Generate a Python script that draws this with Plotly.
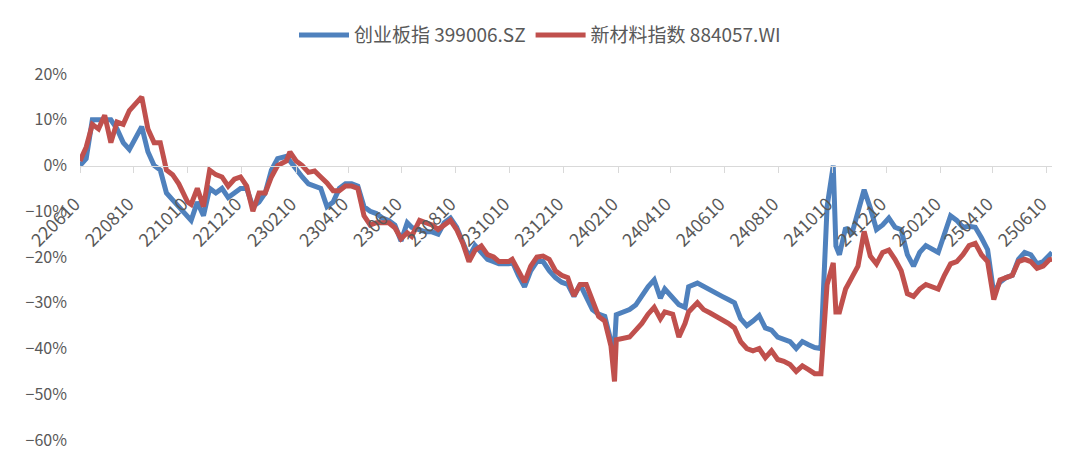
"""ChiNext vs new materials index, cumulative return since 2022-06-10"""

import pandas as pd
import plotly.graph_objects as go

# weekly-ish closes, cumulative change in %
dates = [
    "220610", "220617", "220624", "220701", "220708", "220715", "220722", "220729",
    "220805", "220812", "220819", "220826", "220902", "220909", "220916", "220923",
    "220930", "221010", "221014", "221021", "221028", "221104", "221111", "221118",
    "221125", "221202", "221209", "221216", "221223", "221230", "230106", "230113",
    "230120", "230130", "230203", "230210", "230217", "230224", "230303", "230310",
    "230317", "230324", "230331", "230407", "230414", "230421", "230428", "230505",
    "230512", "230519", "230526", "230602", "230609", "230616", "230621", "230630",
    "230707", "230714", "230721", "230728", "230804", "230811", "230818", "230825",
    "230901", "230908", "230915", "230922", "230928", "231009", "231013", "231020",
    "231027", "231103", "231110", "231117", "231124", "231201", "231208", "231215",
    "231222", "231229", "240105", "240112", "240119", "240126", "240202", "240206",
    "240208", "240223", "240301", "240308", "240315", "240322", "240329", "240403",
    "240412", "240419", "240426", "240430", "240510", "240517", "240524", "240531",
    "240607", "240614", "240621", "240628", "240705", "240712", "240719", "240726",
    "240802", "240809", "240816", "240823", "240830", "240906", "240913", "240920",
    "240927", "241004", "241011", "241014", "241018", "241025", "241101", "241108",
    "241115", "241122", "241129", "241206", "241213", "241220", "241227", "250103",
    "250110", "250117", "250124", "250207", "250214", "250221", "250228", "250307",
    "250314", "250321", "250328", "250404", "250411", "250418", "250425", "250502",
    "250509", "250516", "250523", "250530", "250606", "250613", "250616",
]

chinext = [
    0, 1.5, 10, 10, 10, 10, 8, 5,
    3.5, 6, 8.5, 3, 0, -1, -6, -7.5,
    -9, -11, -12, -8, -11, -5, -6, -5,
    -7, -6, -5, -5, -9, -8, -6, -1,
    1.5, 2, 1, -1, -2.5, -4, -4.5, -5,
    -9, -8, -5, -4, -4, -4.5, -9, -10,
    -10.5, -11.5, -12, -13, -16.5, -12.5, -13.5, -14,
    -14.5, -14.5, -15, -12.5, -11.5, -13.5, -16.5, -20,
    -17.5, -19, -20.5, -21, -21.5, -21.5, -21, -24,
    -26.5, -23, -21, -21, -23, -24.5, -25.5, -26,
    -28.6, -26, -29, -31.5, -32.5, -33, -38.4, -39.5,
    -32.6, -31.5, -30.5, -28.5, -26.5, -25, -29, -27,
    -29, -30.4, -31, -26.5, -25.7, -26.5, -27, -27.8,
    -28.6, -29.3, -30, -33.5, -35, -34, -32.8, -35.5,
    -36, -37.5, -38, -38.5, -40, -38.5, -39.2, -39.8,
    -40, -9, 0, -17.6, -19.5, -13.6, -15, -10,
    -5.3, -9.3, -14, -13, -11.5, -13.5, -14, -19.5,
    -22, -19, -17.5, -19, -15, -11, -12, -13.5,
    -13.3, -13.5, -15.8, -18.4, -28, -25.5, -24.5, -24,
    -20.5, -19, -19.5, -21.5, -21, -19.5, -19,
]

new_materials = [
    1, 4, 9, 8, 11, 5, 9.5, 9,
    12, 13.5, 15, 8, 5, 5, -1, -2,
    -4, -8, -8.5, -5, -9, -1, -2, -2.5,
    -4.5, -3, -2.5, -4.5, -10, -6, -6, -2.5,
    0, 1, 3, 1, 0, -1.5, -1.2, -2.5,
    -3.8, -5.5, -5.5, -4.5, -4.5, -5, -11, -13,
    -12.5, -12.5, -12.5, -13.6, -16, -14.7, -15.5, -12,
    -12.5, -13, -14, -13, -12, -14, -17, -21,
    -18.5, -17.6, -19.5, -20, -21, -21, -20.5, -23,
    -25.5, -22, -20, -19.8, -20.5, -23, -24, -24.5,
    -28.5, -26, -26, -29.5, -33, -34, -39.5, -47.2,
    -38.1, -37.5, -36, -34.5, -32.5, -31, -33.5, -32,
    -32.5, -37.5, -34.5, -32, -30, -31.5, -32.2, -33,
    -33.5, -34.5, -35.5, -38.5, -40, -40.5, -40, -42,
    -40.5, -42.4, -42.8, -43.5, -45, -43.8, -44.6, -45.5,
    -45.5, -26, -21.3, -32, -32, -27, -24.5, -22,
    -14.4, -19.8, -21.5, -19, -18.5, -20.5, -23, -28,
    -28.6, -27, -26, -27, -24, -21.5, -21, -19.5,
    -17.5, -17, -19.5, -21, -29.3, -25, -24.5, -24,
    -21, -20.5, -21, -22.5, -22, -20.6, -20.5,
]

y_ticks = [20, 10, 0, -10, -20, -30, -40, -50, -60]
y_labels = ["20%", "10%", "0%", "\u221210%", "\u221220%", "\u221230%",
            "\u221240%", "\u221250%", "\u221260%"]

FONT = "Noto Sans CJK SC, Noto Sans, sans-serif"
GREY = "#595959"

x = pd.to_datetime(dates, format="%y%m%d")

fig = go.Figure()
fig.add_trace(go.Scatter(x=x, y=chinext, mode="lines", name="创业板指 399006.SZ",
                         line=dict(color="#4F81BD", width=5)))
fig.add_trace(go.Scatter(x=x, y=new_materials, mode="lines", name="新材料指数 884057.WI",
                         line=dict(color="#C0504D", width=5)))

fig.update_layout(
    width=1080, height=468,
    margin=dict(l=80, r=28, t=74, b=28, autoexpand=False),
    plot_bgcolor="white", paper_bgcolor="white",
    font=dict(family=FONT, color=GREY, size=16),
    showlegend=True,
    legend=dict(orientation="h", xref="container", yref="container",
                x=0.5, xanchor="center", y=0.925, yanchor="middle",
                itemwidth=50, font=dict(size=19, color=GREY)),
)

# x axis sits on the 0% line, labels rotated like the original
fig.update_xaxes(
    type="date", range=[x[0], x[-1]],
    anchor="free", position=0.75,
    showline=True, linecolor="#d9d9d9", linewidth=1,
    ticks="outside", ticklen=6, tickcolor="#d9d9d9",
    tick0="2022-06-10", dtick="M2", tickformat="%y%m%d",
    tickangle=-45, tickfont=dict(size=18, color=GREY),
    ticklabelstandoff=14, ticklabelshift=-5,
    showgrid=False, zeroline=False,
)
fig.update_yaxes(
    range=[-60, 20], tickvals=y_ticks, ticktext=y_labels,
    showgrid=False, zeroline=False, showline=False,
    ticklabelstandoff=12, tickfont=dict(size=16, color=GREY),
)

# page body has a default 8px margin, drop it so the chart sits at 0,0
fig.write_html("out.html", config={"displayModeBar": False},
               post_script="document.body.style.margin='0';")
